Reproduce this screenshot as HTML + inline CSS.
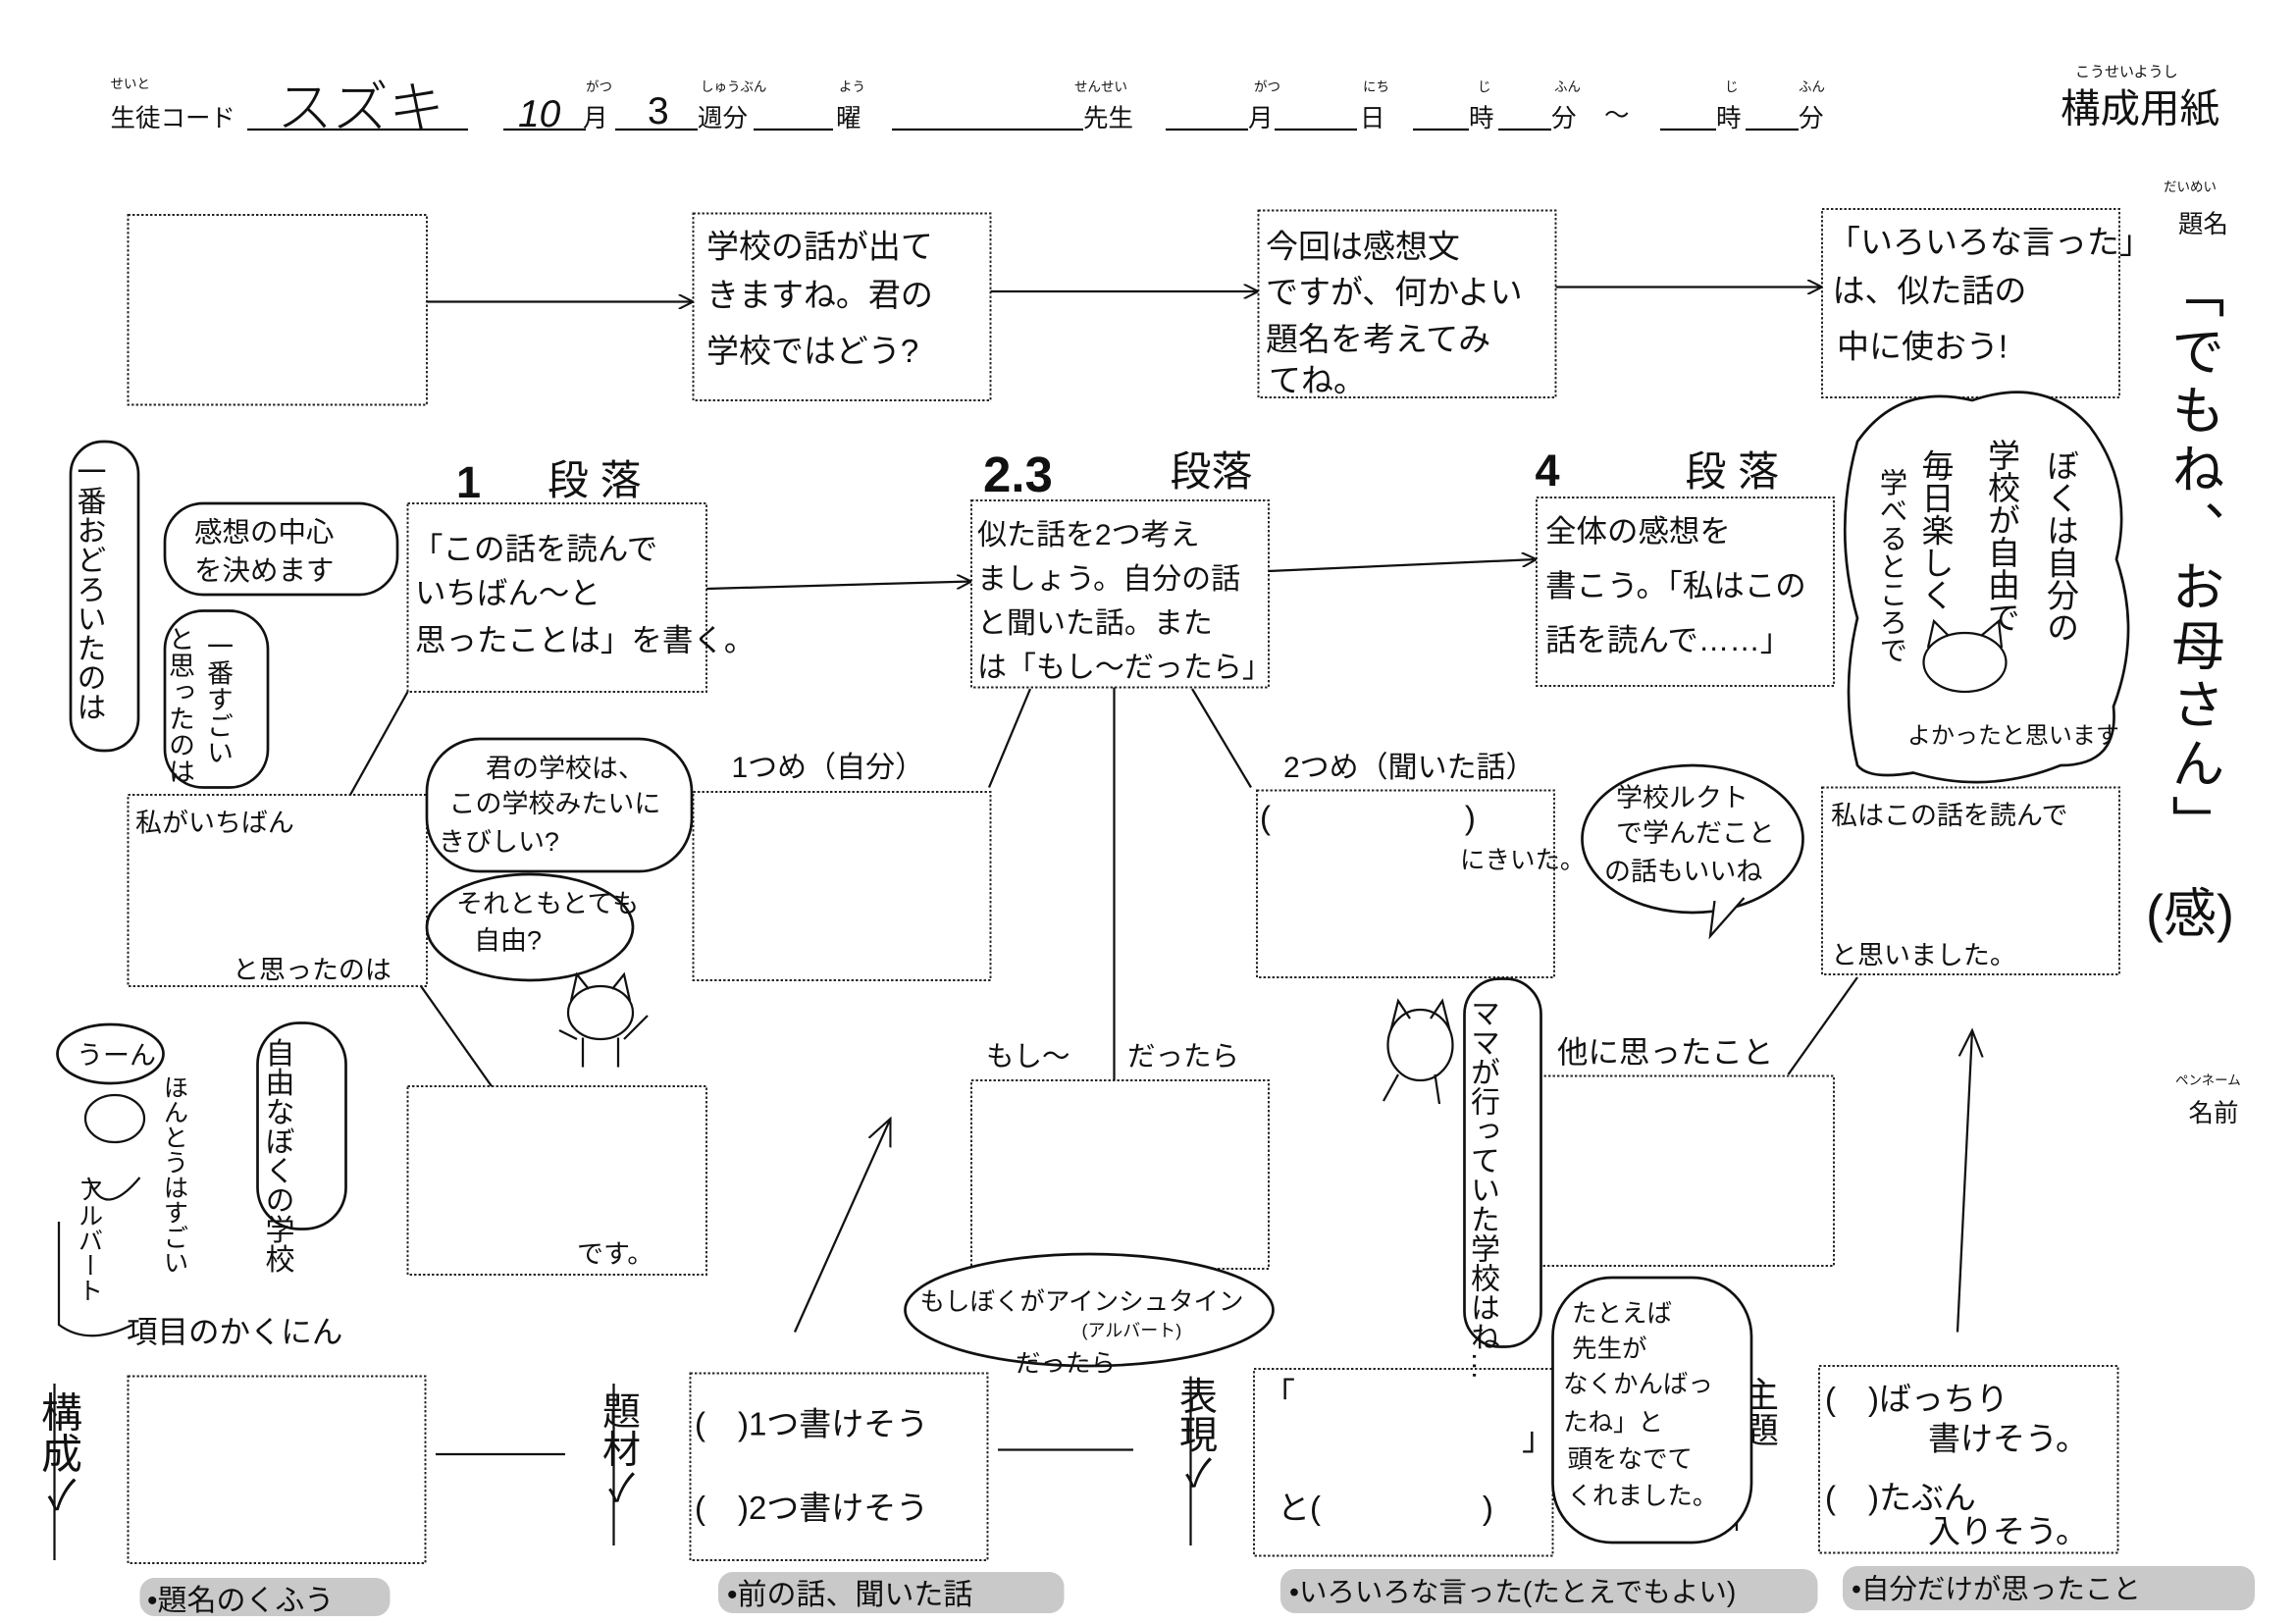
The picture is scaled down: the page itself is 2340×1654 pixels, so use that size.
<!DOCTYPE html>
<html><head><meta charset="utf-8">
<style>
html,body{margin:0;padding:0;background:#fff;}
svg{display:block;}
text{font-family:"Liberation Sans","Noto Sans CJK JP",sans-serif;fill:#111;}
.hw{font-family:"Liberation Sans","Noto Sans CJK JP",sans-serif;}
.box{fill:none;stroke:#222;stroke-width:1.3;stroke-dasharray:1.6 1.4;}
.ln{stroke:#111;stroke-width:1.5;fill:none;}
.bub{fill:#fff;stroke:#111;stroke-width:1.8;}
.v{writing-mode:vertical-rl;}
</style></head>
<body>
<svg width="2340" height="1654" viewBox="0 0 1560 1102.67" xmlns="http://www.w3.org/2000/svg">
<defs>
<marker id="ar" viewBox="0 0 10 10" refX="10" refY="5" markerWidth="10" markerHeight="10" orient="auto" markerUnits="userSpaceOnUse"><path d="M0,0 L10,5 L0,10" fill="none" stroke="#111" stroke-width="1.4"/></marker>
<marker id="ar2" viewBox="0 0 20 20" refX="18" refY="10" markerWidth="20" markerHeight="20" orient="auto" markerUnits="userSpaceOnUse"><path d="M0,2 L18,10 L0,18" fill="none" stroke="#111" stroke-width="1.4"/></marker>
</defs>

<!-- Header -->
<text x="75" y="60" font-size="9">せいと</text>
<text x="75" y="86" font-size="17">生徒コード</text>
<line x1="168" y1="88" x2="318" y2="88" class="ln" stroke-width="1"/>
<text x="188" y="86" font-size="38" font-weight="300">スズキ</text>
<line x1="342" y1="88" x2="398" y2="88" class="ln" stroke-width="1"/>
<text x="352" y="86" font-size="26" font-style="italic">10</text>
<text x="396" y="86" font-size="17">月</text>
<text x="398" y="62" font-size="9">がつ</text>
<line x1="418" y1="88" x2="474" y2="88" class="ln" stroke-width="1"/>
<text x="440" y="84" font-size="26">3</text>
<text x="474" y="86" font-size="17">週分</text>
<text x="476" y="62" font-size="9">しゅうぶん</text>
<line x1="512" y1="88" x2="566" y2="88" class="ln" stroke-width="1"/>
<text x="568" y="86" font-size="17">曜</text>
<text x="570" y="62" font-size="9">よう</text>
<line x1="606" y1="88" x2="736" y2="88" class="ln" stroke-width="1"/>
<text x="736" y="86" font-size="17">先生</text>
<text x="730" y="62" font-size="9">せんせい</text>
<line x1="792" y1="88" x2="848" y2="88" class="ln" stroke-width="1"/>
<text x="848" y="86" font-size="17">月</text>
<text x="852" y="62" font-size="9">がつ</text>
<line x1="866" y1="88" x2="922" y2="88" class="ln" stroke-width="1"/>
<text x="924" y="86" font-size="17">日</text>
<text x="926" y="62" font-size="9">にち</text>
<line x1="960" y1="88" x2="998" y2="88" class="ln" stroke-width="1"/>
<text x="998" y="86" font-size="17">時</text>
<text x="1004" y="62" font-size="9">じ</text>
<line x1="1018" y1="88" x2="1054" y2="88" class="ln" stroke-width="1"/>
<text x="1054" y="86" font-size="17">分</text>
<text x="1056" y="62" font-size="9">ふん</text>
<text x="1090" y="84" font-size="17">～</text>
<line x1="1128" y1="88" x2="1166" y2="88" class="ln" stroke-width="1"/>
<text x="1166" y="86" font-size="17">時</text>
<text x="1172" y="62" font-size="9">じ</text>
<line x1="1186" y1="88" x2="1222" y2="88" class="ln" stroke-width="1"/>
<text x="1222" y="86" font-size="17">分</text>
<text x="1222" y="62" font-size="9">ふん</text>
<text x="1410" y="52" font-size="10">こうせいようし</text>
<text x="1400" y="83" font-size="27">構成用紙</text>

<!-- Right column -->
<text x="1470" y="130" font-size="9">だいめい</text>
<text x="1480" y="158" font-size="17">題名</text>
<text x="1490" y="180" font-size="36" class="v" letter-spacing="4">「でもね、お母さん」</text>
<text x="1458" y="633" font-size="36">(感)</text>
<text x="1478" y="737" font-size="9">ペンネーム</text>
<text x="1487" y="762" font-size="17">名前</text>

<!-- Top row boxes -->
<rect x="87" y="146" width="203" height="129" class="box"/>
<rect x="471" y="145" width="202" height="127" class="box"/>
<rect x="855" y="143" width="202" height="127" class="box"/>
<rect x="1238" y="142" width="202" height="128" class="box"/>
<line x1="290" y1="205" x2="471" y2="205" class="ln" marker-end="url(#ar)"/>
<line x1="673" y1="198" x2="855" y2="198" class="ln" marker-end="url(#ar)"/>
<line x1="1057" y1="195" x2="1238" y2="195" class="ln" marker-end="url(#ar)"/>
<text font-size="22"><tspan x="480" y="175">学校の話が出て</tspan><tspan x="480" y="208">きますね。君の</tspan><tspan x="480" y="246">学校ではどう?</tspan></text>
<text font-size="22"><tspan x="860" y="175">今回は感想文</tspan><tspan x="860" y="206">ですが、何かよい</tspan><tspan x="860" y="238">題名を考えてみ</tspan><tspan x="862" y="266">てね。</tspan></text>
<text font-size="22"><tspan x="1242" y="172">「いろいろな言った」</tspan><tspan x="1245" y="205">は、似た話の</tspan><tspan x="1248" y="243">中に使おう!</tspan></text>

<!-- Section titles -->
<text x="310" y="338" font-size="30" font-weight="bold">1</text>
<text x="372" y="336" font-size="28">段 落</text>
<text x="668" y="334" font-size="34" font-weight="bold">2.3</text>
<text x="795" y="330" font-size="28">段落</text>
<text x="1043" y="330" font-size="30" font-weight="bold">4</text>
<text x="1145" y="330" font-size="28">段 落</text>

<!-- Row 2 boxes -->
<rect x="277" y="342" width="203" height="128" class="box"/>
<rect x="660" y="340" width="202" height="127" class="box"/>
<rect x="1044" y="338" width="202" height="128" class="box"/>
<line x1="480" y1="400" x2="660" y2="395" class="ln" marker-end="url(#ar)"/>
<line x1="862" y1="388" x2="1044" y2="380" class="ln" marker-end="url(#ar)"/>
<text font-size="21"><tspan x="280" y="380">「この話を読んで</tspan><tspan x="282" y="410">いちばん～と</tspan><tspan x="282" y="442">思ったことは」を書く。</tspan></text>
<text font-size="20"><tspan x="664" y="370">似た話を2つ考え</tspan><tspan x="664" y="400">ましょう。自分の話</tspan><tspan x="664" y="430">と聞いた話。また</tspan><tspan x="664" y="460">は「もし～だったら」</tspan></text>
<text font-size="21"><tspan x="1050" y="368">全体の感想を</tspan><tspan x="1050" y="405">書こう。「私はこの</tspan><tspan x="1050" y="442">話を読んで……」</tspan></text>

<!-- Row 3 boxes -->
<rect x="87" y="540" width="203" height="130" class="box"/>
<rect x="471" y="538" width="202" height="128" class="box"/>
<rect x="854" y="537" width="202" height="127" class="box"/>
<rect x="1238" y="535" width="202" height="127" class="box"/>
<text x="92" y="565" font-size="18">私がいちばん</text>
<text x="158" y="665" font-size="18">と思ったのは</text>
<text x="497" y="528" font-size="20">1つめ（自分）</text>
<text x="872" y="528" font-size="20">2つめ（聞いた話）</text>
<text x="856" y="563" font-size="22">(　　　　　　)</text>
<text x="992" y="590" font-size="17">にきいた。</text>
<text x="1244" y="560" font-size="18">私はこの話を読んで</text>
<text x="1244" y="655" font-size="18">と思いました。</text>

<!-- Row 4 boxes -->
<rect x="277" y="738" width="203" height="128" class="box"/>
<rect x="660" y="734" width="202" height="128" class="box"/>
<rect x="1043" y="731" width="203" height="129" class="box"/>
<text x="392" y="858" font-size="18">です。</text>
<text x="670" y="724" font-size="19">もし～</text>
<text x="766" y="724" font-size="19">だったら</text>
<text x="1058" y="722" font-size="21">他に思ったこと</text>

<!-- connectors -->
<line x1="277" y1="470" x2="238" y2="540" class="ln"/>
<line x1="286" y1="670" x2="334" y2="738" class="ln"/>
<line x1="700" y1="468" x2="672" y2="535" class="ln"/>
<line x1="757" y1="467" x2="757" y2="734" class="ln"/>
<line x1="810" y1="468" x2="850" y2="535" class="ln"/>
<line x1="1262" y1="664" x2="1215" y2="730" class="ln"/>
<line x1="540" y1="905" x2="605" y2="760" class="ln" marker-end="url(#ar2)"/>
<line x1="1330" y1="905" x2="1340" y2="700" class="ln" marker-end="url(#ar2)"/>

<!-- Row 5 boxes -->
<rect x="87" y="935" width="202" height="127" class="box"/>
<rect x="469" y="933" width="202" height="127" class="box"/>
<rect x="852" y="930" width="203" height="127" class="box"/>
<rect x="1236" y="928" width="203" height="127" class="box"/>
<line x1="296" y1="988" x2="384" y2="988" class="ln"/>
<line x1="678" y1="985" x2="770" y2="985" class="ln"/>
<line x1="1180" y1="945" x2="1180" y2="1040" class="ln" stroke-width="1"/>
<text x="40" y="945" font-size="28" class="v">構成✓</text>
<text x="420" y="945" font-size="26" class="v">題材✓</text>
<text x="812" y="935" font-size="26" class="v">表現✓</text>
<text x="1195" y="935" font-size="24" class="v">主題</text>
<line x1="37" y1="940" x2="37" y2="1060" class="ln"/>
<line x1="417" y1="940" x2="417" y2="1050" class="ln"/>
<line x1="809" y1="935" x2="809" y2="1050" class="ln"/>
<text font-size="22"><tspan x="472" y="975">(　)1つ書けそう</tspan><tspan x="472" y="1032">(　)2つ書けそう</tspan></text>
<text font-size="22"><tspan x="858" y="955">「</tspan><tspan x="1034" y="985">」</tspan><tspan x="868" y="1032">と(　　　　　)</tspan></text>
<text font-size="22"><tspan x="1240" y="958">(　)ばっちり</tspan><tspan x="1310" y="985">書けそう。</tspan><tspan x="1240" y="1025">(　)たぶん</tspan><tspan x="1310" y="1048">入りそう。</tspan></text>
<text x="86" y="912" font-size="21">項目のかくにん</text>

<!-- bottom labels -->
<rect x="95" y="1072" width="170" height="26" rx="10" fill="#c9c9c9"/>
<text x="100" y="1094" font-size="20">•題名のくふう</text>
<rect x="488" y="1068" width="235" height="28" rx="10" fill="#c9c9c9"/>
<text x="494" y="1090" font-size="20">•前の話、聞いた話</text>
<rect x="870" y="1066" width="365" height="30" rx="10" fill="#c9c9c9"/>
<text x="876" y="1088" font-size="19">•いろいろな言った(たとえでもよい)</text>
<rect x="1252" y="1064" width="280" height="30" rx="10" fill="#c9c9c9"/>
<text x="1258" y="1086" font-size="19">•自分だけが思ったこと</text>

<!-- Bubbles left -->
<rect x="48" y="300" width="46" height="210" rx="22" class="bub"/>
<text x="60" y="310" font-size="20" class="v">一番おどろいたのは</text>
<rect x="112" y="342" width="158" height="62" rx="26" class="bub"/>
<text font-size="19"><tspan x="132" y="368">感想の中心</tspan><tspan x="132" y="394">を決めます</tspan></text>
<rect x="112" y="415" width="70" height="120" rx="26" class="bub"/>
<text x="122" y="425" font-size="18" class="v">と思ったのは</text>
<text x="148" y="430" font-size="18" class="v">一番すごい</text>
<rect x="290" y="502" width="180" height="90" rx="36" class="bub"/>
<text font-size="18"><tspan x="330" y="528">君の学校は、</tspan><tspan x="305" y="552">この学校みたいに</tspan><tspan x="298" y="578">きびしい?</tspan></text>
<ellipse cx="360" cy="630" rx="70" ry="36" class="bub"/>
<text font-size="18"><tspan x="310" y="620">それともとても</tspan><tspan x="322" y="645">自由?</tspan></text>
<!-- cat -->
<ellipse cx="408" cy="688" rx="22" ry="18" fill="none" stroke="#111" stroke-width="1.5"/>
<path d="M388,680 L392,662 L400,672 M416,672 L424,662 L428,680" class="ln"/>
<path d="M392,706 L380,700 M424,706 L440,690 M396,705 L396,725 M420,705 L420,725" class="ln"/>
<ellipse cx="75" cy="716" rx="36" ry="20" class="bub"/>
<text x="52" y="723" font-size="18">うーん</text>
<rect x="175" y="695" width="60" height="140" rx="28" class="bub"/>
<text x="188" y="705" font-size="20" class="v">自由なぼくの学校</text>
<text x="118" y="730" font-size="17" class="v">ほんとうはすごい</text>
<text x="60" y="800" font-size="17" class="v">アルバート</text>
<ellipse cx="78" cy="760" rx="20" ry="16" fill="none" stroke="#111" stroke-width="1.5"/>
<path d="M60,800 Q70,830 95,800 M40,830 L40,900 Q60,915 90,900" class="ln"/>

<!-- Bubbles middle -->
<ellipse cx="740" cy="890" rx="125" ry="38" class="bub"/>
<text font-size="17"><tspan x="625" y="890">もしぼくがアインシュタイン</tspan><tspan x="735" y="908" font-size="12">(アルバート)</tspan><tspan x="690" y="932">だったら</tspan></text>
<ellipse cx="1150" cy="570" rx="75" ry="50" class="bub"/>
<text font-size="18"><tspan x="1098" y="548">学校ルクト</tspan><tspan x="1098" y="572">で学んだこと</tspan><tspan x="1090" y="598">の話もいいね</tspan></text>
<path d="M1165,612 L1162,636 L1185,610" fill="#fff" stroke="#111" stroke-width="1.5"/>
<rect x="995" y="665" width="52" height="250" rx="24" class="bub"/>
<text x="1007" y="678" font-size="20" class="v">ママが行っていた学校はね…</text>
<ellipse cx="965" cy="710" rx="22" ry="24" fill="none" stroke="#111" stroke-width="1.5"/>
<path d="M945,700 L950,680 L958,692 M972,692 L980,680 L985,700 M950,730 L940,748 M975,730 L978,750" class="ln"/>
<rect x="1055" y="868" width="135" height="180" rx="40" class="bub"/>
<text font-size="17"><tspan x="1068" y="898">たとえば</tspan><tspan x="1068" y="922">先生が</tspan><tspan x="1062" y="946">なくかんばっ</tspan><tspan x="1062" y="972">たね」と</tspan><tspan x="1065" y="997">頭をなでて</tspan><tspan x="1065" y="1022">くれました。</tspan></text>

<!-- Bubble right cloud -->
<path d="M1262,520 Q1250,470 1262,420 Q1245,360 1262,300 Q1290,260 1340,272 Q1390,255 1420,290 Q1450,330 1438,380 Q1455,430 1436,480 Q1440,520 1400,520 Q1350,540 1300,525 Q1270,530 1262,520 Z" class="bub"/>
<text x="1400" y="305" font-size="22" class="v">ぼくは自分の</text>
<text x="1360" y="298" font-size="22" class="v">学校が自由で</text>
<text x="1315" y="305" font-size="22" class="v">毎日楽しく</text>
<text x="1285" y="318" font-size="19" class="v">学べるところで</text>
<text x="1296" y="505" font-size="16">よかったと思います</text>
<ellipse cx="1335" cy="450" rx="28" ry="20" fill="none" stroke="#111" stroke-width="1.5"/>
<path d="M1310,440 L1314,422 L1324,432 M1346,432 L1358,422 L1360,440" class="ln"/>
</svg>
</body></html>
